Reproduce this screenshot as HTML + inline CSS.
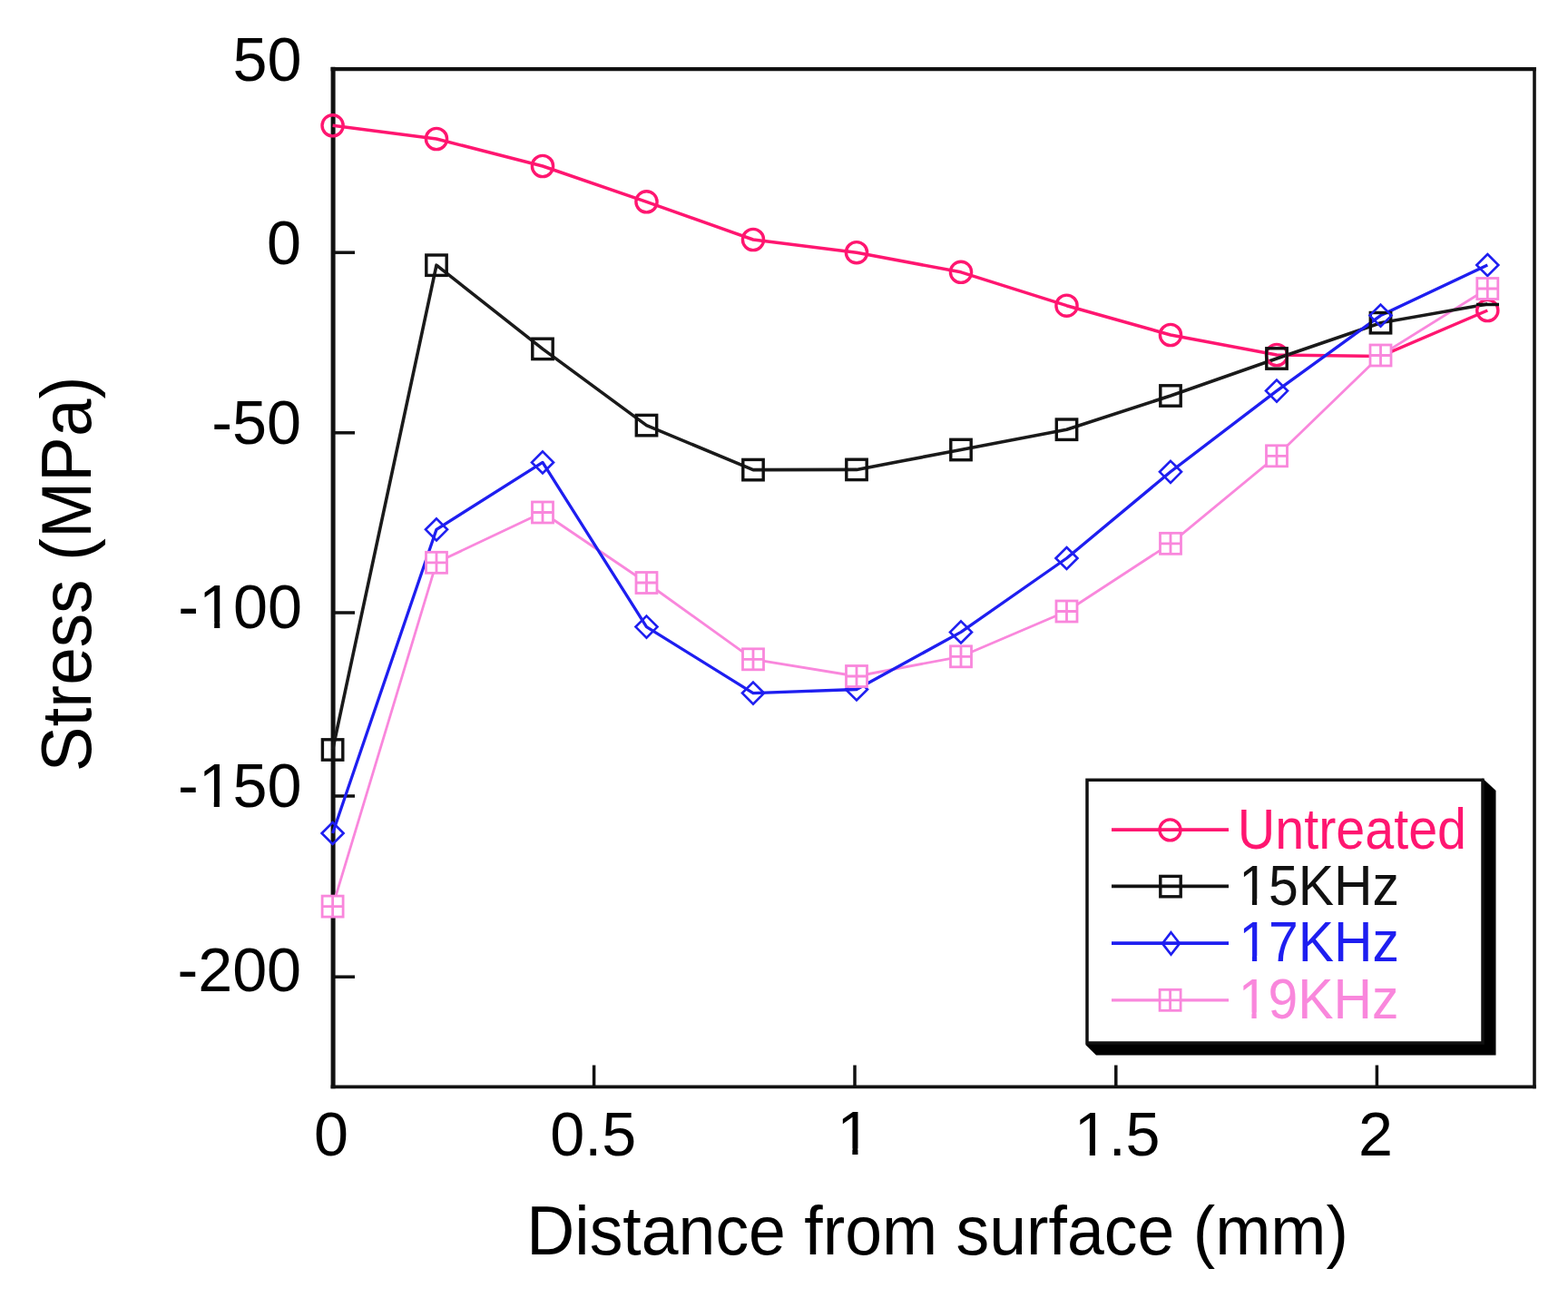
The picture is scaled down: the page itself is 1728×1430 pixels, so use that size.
<!DOCTYPE html>
<html><head><meta charset="utf-8"><title>Stress vs distance from surface</title>
<style>html,body{margin:0;padding:0;background:#fff;overflow:hidden;}svg{display:block;}</style></head>
<body>
<svg width="1728" height="1430" viewBox="0 0 1728 1430">
<rect width="1728" height="1430" fill="#fff"/>
<path d="M367.1,1199.2 V73.8" stroke="#111111" stroke-width="5"/>
<path d="M364.6,76.1 H1692.7" stroke="#111111" stroke-width="4.4"/>
<path d="M1691,73.9 V1199.2" stroke="#111111" stroke-width="3.6"/>
<path d="M364.6,1197.4 H1692.8" stroke="#111111" stroke-width="3.8"/>
<path d="M367,278.2 H391" stroke="#111111" stroke-width="3.5"/>
<path d="M367,476.8 H391" stroke="#111111" stroke-width="3.5"/>
<path d="M367,675.0 H391" stroke="#111111" stroke-width="3.5"/>
<path d="M367,877.0 H391" stroke="#111111" stroke-width="3.5"/>
<path d="M367,1076.2 H391" stroke="#111111" stroke-width="3.5"/>
<path d="M654.6,1197 V1173.5" stroke="#111111" stroke-width="3.5"/>
<path d="M942.0,1197 V1173.5" stroke="#111111" stroke-width="3.5"/>
<path d="M1229.8,1197 V1173.5" stroke="#111111" stroke-width="3.5"/>
<path d="M1517.4,1197 V1173.5" stroke="#111111" stroke-width="3.5"/>
<polyline points="366.6,998.6 481.0,619.8 598.0,564.5 712.5,642.0 830.0,726.3 944.0,745.0 1059.0,723.3 1175.5,673.5 1290.0,598.8 1407.0,502.3 1521.5,391.5 1639.3,318.0" fill="none" stroke="#f987dc" stroke-width="2.8" stroke-linejoin="round"/>
<polyline points="366.6,138.3 481.0,153.0 598.0,183.0 712.5,222.3 830.0,264.0 944.0,278.2 1059.0,299.8 1175.5,336.7 1290.0,369.0 1407.0,391.0 1521.5,392.5 1639.3,342.0" fill="none" stroke="#ff1670" stroke-width="3.5" stroke-linejoin="round"/>
<polyline points="366.6,826.0 481.0,292.2 598.0,384.4 712.5,468.6 830.0,517.6 944.0,517.4 1059.0,495.5 1175.5,473.2 1290.0,436.0 1407.0,395.0 1521.5,355.7 1639.3,335.0" fill="none" stroke="#1a1a1a" stroke-width="3.6" stroke-linejoin="round"/>
<polyline points="366.6,918.0 481.0,583.3 598.0,509.4 712.5,690.6 830.0,763.6 944.0,759.5 1059.0,696.4 1175.5,615.0 1290.0,519.8 1407.0,430.6 1521.5,347.6 1639.3,292.0" fill="none" stroke="#1e1ef0" stroke-width="3.3" stroke-linejoin="round"/>
<circle cx="366.6" cy="138.3" r="11.6" fill="none" stroke="#ff1670" stroke-width="3.4"/>
<circle cx="481.0" cy="153.0" r="11.6" fill="none" stroke="#ff1670" stroke-width="3.4"/>
<circle cx="598.0" cy="183.0" r="11.6" fill="none" stroke="#ff1670" stroke-width="3.4"/>
<circle cx="712.5" cy="222.3" r="11.6" fill="none" stroke="#ff1670" stroke-width="3.4"/>
<circle cx="830.0" cy="264.0" r="11.6" fill="none" stroke="#ff1670" stroke-width="3.4"/>
<circle cx="944.0" cy="278.2" r="11.6" fill="none" stroke="#ff1670" stroke-width="3.4"/>
<circle cx="1059.0" cy="299.8" r="11.6" fill="none" stroke="#ff1670" stroke-width="3.4"/>
<circle cx="1175.5" cy="336.7" r="11.6" fill="none" stroke="#ff1670" stroke-width="3.4"/>
<circle cx="1290.0" cy="369.0" r="11.6" fill="none" stroke="#ff1670" stroke-width="3.4"/>
<circle cx="1407.0" cy="391.0" r="11.6" fill="none" stroke="#ff1670" stroke-width="3.4"/>
<circle cx="1639.3" cy="342.0" r="11.6" fill="none" stroke="#ff1670" stroke-width="3.4"/>
<rect x="355.4" y="814.8" width="22.4" height="22.4" fill="none" stroke="#111111" stroke-width="3.4"/>
<rect x="469.8" y="281.0" width="22.4" height="22.4" fill="none" stroke="#111111" stroke-width="3.4"/>
<rect x="586.8" y="373.2" width="22.4" height="22.4" fill="none" stroke="#111111" stroke-width="3.4"/>
<rect x="701.3" y="457.4" width="22.4" height="22.4" fill="none" stroke="#111111" stroke-width="3.4"/>
<rect x="818.8" y="506.4" width="22.4" height="22.4" fill="none" stroke="#111111" stroke-width="3.4"/>
<rect x="932.8" y="506.2" width="22.4" height="22.4" fill="none" stroke="#111111" stroke-width="3.4"/>
<rect x="1047.8" y="484.3" width="22.4" height="22.4" fill="none" stroke="#111111" stroke-width="3.4"/>
<rect x="1164.3" y="462.0" width="22.4" height="22.4" fill="none" stroke="#111111" stroke-width="3.4"/>
<rect x="1278.8" y="424.8" width="22.4" height="22.4" fill="none" stroke="#111111" stroke-width="3.4"/>
<rect x="1395.8" y="383.8" width="22.4" height="22.4" fill="none" stroke="#111111" stroke-width="3.4"/>
<rect x="1510.3" y="344.5" width="22.4" height="22.4" fill="none" stroke="#111111" stroke-width="3.4"/>
<polygon points="366.6,906.0 378.6,918.0 366.6,930.0 354.6,918.0" fill="none" stroke="#1e1ef0" stroke-width="2.6"/>
<polygon points="481.0,571.3 493.0,583.3 481.0,595.3 469.0,583.3" fill="none" stroke="#1e1ef0" stroke-width="2.6"/>
<polygon points="598.0,497.4 610.0,509.4 598.0,521.4 586.0,509.4" fill="none" stroke="#1e1ef0" stroke-width="2.6"/>
<polygon points="712.5,678.6 724.5,690.6 712.5,702.6 700.5,690.6" fill="none" stroke="#1e1ef0" stroke-width="2.6"/>
<polygon points="830.0,751.6 842.0,763.6 830.0,775.6 818.0,763.6" fill="none" stroke="#1e1ef0" stroke-width="2.6"/>
<polygon points="944.0,747.5 956.0,759.5 944.0,771.5 932.0,759.5" fill="none" stroke="#1e1ef0" stroke-width="2.6"/>
<polygon points="1059.0,684.4 1071.0,696.4 1059.0,708.4 1047.0,696.4" fill="none" stroke="#1e1ef0" stroke-width="2.6"/>
<polygon points="1175.5,603.0 1187.5,615.0 1175.5,627.0 1163.5,615.0" fill="none" stroke="#1e1ef0" stroke-width="2.6"/>
<polygon points="1290.0,507.8 1302.0,519.8 1290.0,531.8 1278.0,519.8" fill="none" stroke="#1e1ef0" stroke-width="2.6"/>
<polygon points="1407.0,418.6 1419.0,430.6 1407.0,442.6 1395.0,430.6" fill="none" stroke="#1e1ef0" stroke-width="2.6"/>
<polygon points="1521.5,335.6 1533.5,347.6 1521.5,359.6 1509.5,347.6" fill="none" stroke="#1e1ef0" stroke-width="2.6"/>
<polygon points="1639.3,280.0 1651.3,292.0 1639.3,304.0 1627.3,292.0" fill="none" stroke="#1e1ef0" stroke-width="2.6"/>
<rect x="355.1" y="987.1" width="23.0" height="23.0" fill="#fff" stroke="#f987dc" stroke-width="2.8"/><path d="M366.6,987.1V1010.1M355.1,998.6H378.1" stroke="#f987dc" stroke-width="2.8" fill="none"/>
<rect x="469.5" y="608.3" width="23.0" height="23.0" fill="#fff" stroke="#f987dc" stroke-width="2.8"/><path d="M481.0,608.3V631.3M469.5,619.8H492.5" stroke="#f987dc" stroke-width="2.8" fill="none"/>
<rect x="586.5" y="553.0" width="23.0" height="23.0" fill="#fff" stroke="#f987dc" stroke-width="2.8"/><path d="M598.0,553.0V576.0M586.5,564.5H609.5" stroke="#f987dc" stroke-width="2.8" fill="none"/>
<rect x="701.0" y="630.5" width="23.0" height="23.0" fill="#fff" stroke="#f987dc" stroke-width="2.8"/><path d="M712.5,630.5V653.5M701.0,642.0H724.0" stroke="#f987dc" stroke-width="2.8" fill="none"/>
<rect x="818.5" y="714.8" width="23.0" height="23.0" fill="#fff" stroke="#f987dc" stroke-width="2.8"/><path d="M830.0,714.8V737.8M818.5,726.3H841.5" stroke="#f987dc" stroke-width="2.8" fill="none"/>
<rect x="932.5" y="733.5" width="23.0" height="23.0" fill="#fff" stroke="#f987dc" stroke-width="2.8"/><path d="M944.0,733.5V756.5M932.5,745.0H955.5" stroke="#f987dc" stroke-width="2.8" fill="none"/>
<rect x="1047.5" y="711.8" width="23.0" height="23.0" fill="#fff" stroke="#f987dc" stroke-width="2.8"/><path d="M1059.0,711.8V734.8M1047.5,723.3H1070.5" stroke="#f987dc" stroke-width="2.8" fill="none"/>
<rect x="1164.0" y="662.0" width="23.0" height="23.0" fill="#fff" stroke="#f987dc" stroke-width="2.8"/><path d="M1175.5,662.0V685.0M1164.0,673.5H1187.0" stroke="#f987dc" stroke-width="2.8" fill="none"/>
<rect x="1278.5" y="587.3" width="23.0" height="23.0" fill="#fff" stroke="#f987dc" stroke-width="2.8"/><path d="M1290.0,587.3V610.3M1278.5,598.8H1301.5" stroke="#f987dc" stroke-width="2.8" fill="none"/>
<rect x="1395.5" y="490.8" width="23.0" height="23.0" fill="#fff" stroke="#f987dc" stroke-width="2.8"/><path d="M1407.0,490.8V513.8M1395.5,502.3H1418.5" stroke="#f987dc" stroke-width="2.8" fill="none"/>
<rect x="1510.0" y="380.0" width="23.0" height="23.0" fill="#fff" stroke="#f987dc" stroke-width="2.8"/><path d="M1521.5,380.0V403.0M1510.0,391.5H1533.0" stroke="#f987dc" stroke-width="2.8" fill="none"/>
<rect x="1627.8" y="306.5" width="23.0" height="23.0" fill="#fff" stroke="#f987dc" stroke-width="2.8"/><path d="M1639.3,306.5V329.5M1627.8,318.0H1650.8" stroke="#f987dc" stroke-width="2.8" fill="none"/>
<path d="M1627,335.5 H1652" stroke="#111111" stroke-width="3.5"/>
<polygon points="1634,857.5 1648.5,871 1648.5,1162.5 1208,1162.5 1196.3,1151" fill="#000"/>
<rect x="1198" y="859.3" width="436" height="289.7" fill="#fff" stroke="#111111" stroke-width="3.5"/>
<path d="M1225,914.2 H1354" stroke="#ff1670" stroke-width="3.8"/>
<path d="M1225,976.4 H1354" stroke="#111111" stroke-width="3.8"/>
<path d="M1225,1039.2 H1354" stroke="#1e1ef0" stroke-width="3.8"/>
<path d="M1225,1101.9 H1354" stroke="#f987dc" stroke-width="3.4"/>
<circle cx="1289.5" cy="914.4" r="11.5" fill="none" stroke="#ff1670" stroke-width="3.4"/>
<rect x="1278.8" y="965.4" width="22.4" height="22.4" fill="none" stroke="#111111" stroke-width="3.4"/>
<polygon points="1290.5,1027.2 1300.0,1039.4 1290.5,1051.6 1281.0,1039.4" fill="none" stroke="#1e1ef0" stroke-width="2.6"/>
<rect x="1278.1" y="1090.3" width="23.0" height="23.0" fill="#fff" stroke="#f987dc" stroke-width="2.8"/><path d="M1289.6,1090.3V1113.3M1278.1,1101.8H1301.1" stroke="#f987dc" stroke-width="2.8" fill="none"/>
<g font-family="'Liberation Sans', Arial, sans-serif">
<g transform="translate(1363.74,934.67) scale(0.9122,1)"><text id="t_Untreated" font-size="63.00" fill="#ff1670">Untreated</text></g>
<g transform="translate(1365.13,996.58) scale(0.9354,1)"><text id="t_15KHz" font-size="63.00" fill="#111111">15KHz</text><rect x="2.77" y="-6.31" width="13.04" height="7.71" fill="#fff"/><rect x="21.44" y="-6.31" width="12.70" height="7.71" fill="#fff"/></g>
<g transform="translate(1365.13,1059.29) scale(0.9354,1)"><text id="t_17KHz" font-size="63.00" fill="#1e1ef0">17KHz</text><rect x="2.77" y="-6.31" width="13.04" height="7.71" fill="#fff"/><rect x="21.44" y="-6.31" width="12.70" height="7.71" fill="#fff"/></g>
<g transform="translate(1364.63,1121.61) scale(0.9354,1)"><text id="t_19KHz" font-size="63.00" fill="#f987dc">19KHz</text><rect x="2.77" y="-6.31" width="13.04" height="7.71" fill="#fff"/><rect x="21.44" y="-6.31" width="12.70" height="7.71" fill="#fff"/></g>
<g transform="translate(256.49,88.50) scale(0.9900,1)"><text id="t_y50" font-size="69.00" fill="#000000">50</text></g>
<g transform="translate(294.11,290.98) scale(0.9900,1)"><text id="t_y0" font-size="69.00" fill="#000000">0</text></g>
<g transform="translate(233.22,489.00) scale(0.9900,1)"><text id="t_y-50" font-size="69.00" fill="#000000">-50</text></g>
<g transform="translate(196.30,691.51) scale(0.9900,1)"><text id="t_y-100" font-size="69.00" fill="#000000">-100</text><rect x="25.99" y="-6.75" width="14.29" height="8.15" fill="#fff"/><rect x="46.44" y="-6.75" width="13.91" height="8.15" fill="#fff"/></g>
<g transform="translate(195.89,889.46) scale(0.9900,1)"><text id="t_y-150" font-size="69.00" fill="#000000">-150</text><rect x="25.99" y="-6.75" width="14.29" height="8.15" fill="#fff"/><rect x="46.44" y="-6.75" width="13.91" height="8.15" fill="#fff"/></g>
<g transform="translate(195.41,1091.50) scale(0.9900,1)"><text id="t_y-200" font-size="69.00" fill="#000000">-200</text></g>
<g transform="translate(346.08,1272.98) scale(0.9900,1)"><text id="t_x0" font-size="69.00" fill="#000000">0</text></g>
<g transform="translate(606.37,1272.98) scale(0.9900,1)"><text id="t_x0_5" font-size="69.00" fill="#000000">0.5</text></g>
<g transform="translate(922.20,1272.09) scale(0.9900,1)"><text id="t_x1" font-size="69.00" fill="#000000">1</text><rect x="3.03" y="-6.75" width="14.29" height="8.15" fill="#fff"/><rect x="23.48" y="-6.75" width="13.91" height="8.15" fill="#fff"/></g>
<g transform="translate(1183.66,1272.95) scale(0.9900,1)"><text id="t_x1_5" font-size="69.00" fill="#000000">1.5</text><rect x="3.03" y="-6.75" width="14.29" height="8.15" fill="#fff"/><rect x="23.48" y="-6.75" width="13.91" height="8.15" fill="#fff"/></g>
<g transform="translate(1496.89,1272.96) scale(0.9900,1)"><text id="t_x2" font-size="69.00" fill="#000000">2</text></g>
<g transform="translate(580.31,1382.07) scale(0.9759,1)"><text id="t_xlabel" font-size="75.25" fill="#000000">Distance from surface (mm)</text></g>
<g transform="translate(99.67,850.19) rotate(-90) scale(0.9614,1)"><text id="t_ylabel" font-size="77.65" fill="#000000">Stress (MPa)</text></g>
</g>
</svg>
</body></html>
